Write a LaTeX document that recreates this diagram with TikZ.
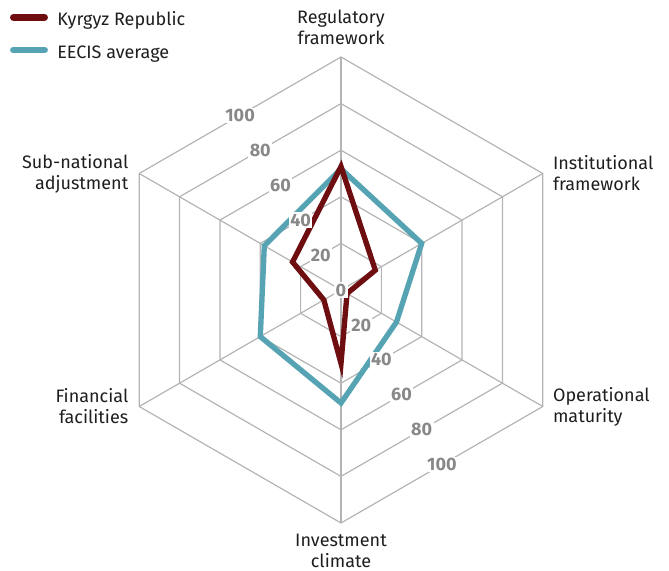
\documentclass[tikz,border=0pt]{standalone}
\usepackage{fontspec}
\setmainfont{Fira Sans}
\usepackage{xcolor}
\usetikzlibrary{positioning}

\definecolor{kgzred}{HTML}{6E0E10}
\definecolor{eecisteal}{HTML}{55A3B3}
\definecolor{gridgray}{HTML}{B4B4B4}
\definecolor{scalegray}{HTML}{888888}
\definecolor{textblack}{HTML}{1E1E1E}

\tikzset{
    gridline/.style={draw=gridgray, line width=0.9pt},
    series/.style={line width=4pt, line join=miter},
    legendline/.style={line width=5.2pt, line cap=round},
    scalelabel/.style={fill=white, text=scalegray, inner sep=1pt,
        font=\fontsize{13.5}{15}\selectfont\bfseries},
    catlabel/.style={text=textblack, inner sep=0pt,
        font=\fontsize{13.5}{15.75}\selectfont},
    legtext/.style={text=textblack, inner sep=0pt, anchor=base west,
        font=\fontsize{13.5}{15.75}\selectfont}
}

\begin{document}
\begin{tikzpicture}[x=0.75pt, y=0.75pt]
    \useasboundingbox (-341,-281) rectangle (328,290);

    \coordinate (c) at (0,0);
    \foreach \a/\n in {90/reg,30/inst,-30/oper,-90/inv,-150/fin,150/sub}
        \coordinate (\n) at (\a:233);

    % grid
    \foreach \r in {20,40,60,80,100}
        \draw[gridline] (90:{2.33*\r}) -- (30:{2.33*\r}) -- (-30:{2.33*\r})
            -- (-90:{2.33*\r}) -- (-150:{2.33*\r}) -- (150:{2.33*\r}) -- cycle;
    \foreach \n in {reg,inst,oper,inv,fin,sub}
        \draw[gridline] (c) -- (\n);

    % series
    \draw[series, eecisteal] (90:{2.33*52}) -- (30:{2.33*40}) -- (-30:{2.33*27.5})
        -- (-90:{2.33*48.5}) -- (-150:{2.33*40}) -- (150:{2.33*38}) -- cycle;
    \draw[series, kgzred] (90:{2.33*53}) -- (30:{2.33*17}) -- (-30:{2.33*3})
        -- (-90:{2.33*31.5}) -- (-150:{2.33*8.5}) -- (150:{2.33*24}) -- cycle;

    % scale
    \node[scalelabel] (zero) at (c) {0};
    \foreach \v in {20,40,60,80,100} {
        \node[scalelabel] (up\v) at (120:{2.018*\v}) {\v};
        \node[scalelabel] (dn\v) at (-60:{2.018*\v}) {\v};
    }

    % axis names
    \node[catlabel, align=center, above=9pt of reg] (reglabel) {Regulatory\\framework};
    \node[catlabel, align=left, right=7.5pt of inst] (instlabel) {Institutional\\framework};
    \node[catlabel, align=left, right=7.5pt of oper] (operlabel) {Operational\\maturity};
    \node[catlabel, align=center, below=8pt of inv] (invlabel) {Investment\\climate};
    \node[catlabel, align=right, left=8pt of fin] (finlabel) {Financial\\facilities};
    \node[catlabel, align=right, left=8pt of sub] (sublabel) {Sub-national\\adjustment};

    % legend
    \coordinate (kgzA) at (-327.5,272.5);
    \coordinate (kgzB) at (-296.5,272.5);
    \coordinate (eecA) at (-327.5,240);
    \coordinate (eecB) at (-296.5,240);
    \draw[legendline, kgzred] (kgzA) -- (kgzB);
    \draw[legendline, eecisteal] (eecA) -- (eecB);
    \node[legtext] (kgztext) at (-284,264) {Kyrgyz Republic};
    \node[legtext] (eectext) at (-284,231.5) {EECIS average};
\end{tikzpicture}
\end{document}
